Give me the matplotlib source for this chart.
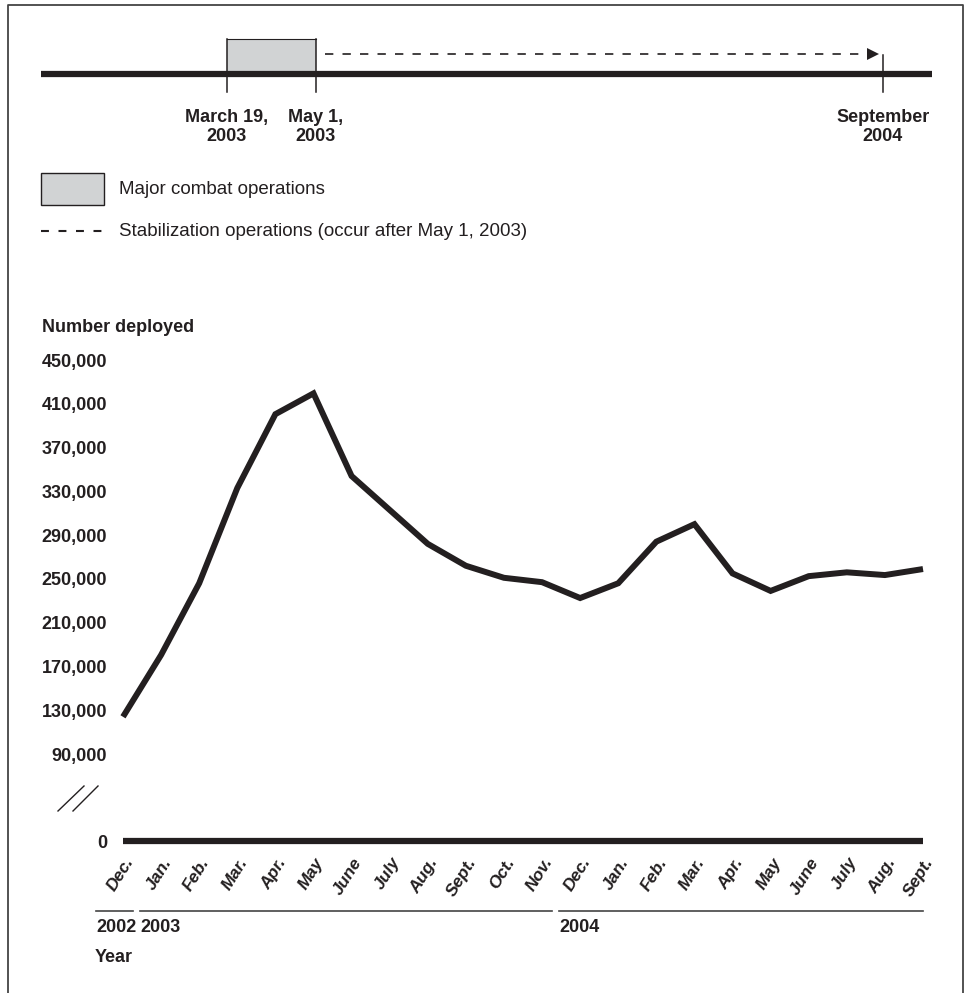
import matplotlib
matplotlib.use("Agg")
import matplotlib.pyplot as plt
from matplotlib.transforms import blended_transform_factory
from matplotlib.patches import Rectangle

# ---------------- data ----------------
months = ["Dec.", "Jan.", "Feb.", "Mar.", "Apr.", "May", "June", "July", "Aug.",
          "Sept.", "Oct.", "Nov.", "Dec.", "Jan.", "Feb.", "Mar.", "Apr.", "May",
          "June", "July", "Aug.", "Sept."]
deployed = [124000, 180500, 246000, 333000, 400500, 419500, 344000, 313000, 282000,
            262000, 251000, 247000, 232500, 246000, 284000, 300000, 255000, 239000,
            252500, 256000, 253500, 259000]
year_labels = ["2002", "2003", "2004"]
year_first_idx = [0, 1, 12]
year_last_idx = [0, 11, 21]
yticks = [90000, 130000, 170000, 210000, 250000, 290000, 330000, 370000, 410000, 450000]
timeline_labels = ["March 19,\n2003", "May 1,\n2003", "September\n2004"]
legend_labels = ["Major combat operations",
                 "Stabilization operations (occur after May 1, 2003)"]

INK = "#231f20"
GRAY = "#d1d3d4"
W, H = 970, 993

plt.rcParams['font.family'] = ['Liberation Sans', 'DejaVu Sans']

fig = plt.figure(figsize=(W / 100, H / 100), dpi=100)

# overlay axes in pixel coordinates for decorations
bg = fig.add_axes([0, 0, 1, 1])
bg.set_xlim(0, W)
bg.set_ylim(H, 0)
bg.axis("off")

# frame
bg.plot([8, 8, 963, 963], [H + 5, 5, 5, H + 5], color="#444444", lw=1.3, clip_on=False)

# ---------------- timeline ----------------
tl_y = 74
bg.plot([41, 932], [tl_y, tl_y], color=INK, lw=4.5, solid_capstyle="butt")
bg.add_patch(Rectangle((227, 39), 316 - 227, tl_y - 39, facecolor=GRAY,
                       edgecolor="none", zorder=1))
bg.plot([227, 316], [39, 39], color=INK, lw=0.8)
tick_x = [227, 316, 883]
tick_top = [39, 39, 55]
for x, t in zip(tick_x, tick_top):
    bg.plot([x, x], [t, 92], color=INK, lw=1.1)
bg.plot([325, 866], [54, 54], color=INK, lw=1.2, dashes=(5, 5.5))
bg.plot([873], [54], marker=">", color=INK, markersize=8, markeredgewidth=0)
for x, lab in zip(tick_x, timeline_labels):
    bg.text(x, 127, lab, ha="center", va="center", fontsize=13, fontweight="bold",
            color=INK, linespacing=1.1)

# legend
bg.add_patch(Rectangle((41, 173), 63, 32, facecolor=GRAY, edgecolor=INK, lw=1.0))
bg.text(119, 190, legend_labels[0], ha="left", va="center", fontsize=13.5, color=INK)
bg.plot([41, 104], [231, 231], color=INK, lw=1.5, dashes=(3.8, 4.6))
bg.text(119, 231, legend_labels[1], ha="left", va="center", fontsize=13.5, color=INK)

# axis title
bg.text(42, 328, "Number deployed", ha="left", va="center", fontsize=13,
        fontweight="bold", color=INK)

# break marks
bg.plot([58, 84], [811, 786], color=INK, lw=1.0)
bg.plot([73, 98], [811, 786], color=INK, lw=1.0)

# ---------------- main axes ----------------
x_left, x_right = 123, 923
y_top, y_bot = 360, 754
ax = fig.add_axes([x_left / W, 1 - y_bot / H, (x_right - x_left) / W, (y_bot - y_top) / H])
ax.patch.set_alpha(0)
xs = list(range(len(deployed)))
ax.plot(xs, deployed, color=INK, lw=4.3, solid_joinstyle="miter",
        solid_capstyle="butt", clip_on=False)
ax.set_xlim(0, len(deployed) - 1)
ax.set_ylim(yticks[0], yticks[-1])
ax.set_yticks(yticks)
ax.set_yticklabels([f"{v:,}" for v in yticks], fontsize=13, fontweight="bold", color=INK)
ax.set_xticks([])
ax.tick_params(axis="y", length=0, pad=11.5)
for s in ax.spines.values():
    s.set_visible(False)

# zero baseline axes
ax0 = fig.add_axes([x_left / W, 1 - 851 / H, (x_right - x_left) / W, 20 / H])
ax0.patch.set_alpha(0)
ax0.set_xlim(0, len(deployed) - 1)
ax0.set_ylim(-1, 1)
ax0.axhline(0, color=INK, lw=4.5, solid_capstyle="butt")
ax0.set_yticks([0])
ax0.set_yticklabels(["0"], fontsize=13, fontweight="bold", color=INK)
ax0.set_xticks([])
ax0.tick_params(axis="y", length=0, pad=11.5)
for s in ax0.spines.values():
    s.set_visible(False)

tr = blended_transform_factory(ax0.transData, fig.transFigure)
for i, m in enumerate(months):
    ax0.text(i + 0.02, 1 - 855 / H, m, transform=tr, rotation=58, rotation_mode="anchor",
             ha="right", va="top", fontsize=12.5, fontweight="bold", fontstyle="italic",
             color=INK, clip_on=False)

# year brackets
for lab, a, b in zip(year_labels, year_first_idx, year_last_idx):
    start = a - 0.7 if a == 0 else a - 0.55
    end = min(b + 0.25, len(deployed) - 1)
    ax0.plot([start, end], [1 - 911 / H] * 2, transform=tr, color="#444444", lw=1.2,
             clip_on=False)
    ax0.text(start, 1 - 927 / H, lab, transform=tr, ha="left", va="center",
             fontsize=13, fontweight="bold", color=INK)
bg.text(95, 957, "Year", ha="left", va="center", fontsize=13, fontweight="bold", color=INK)

fig.savefig("out.png", dpi=100)
